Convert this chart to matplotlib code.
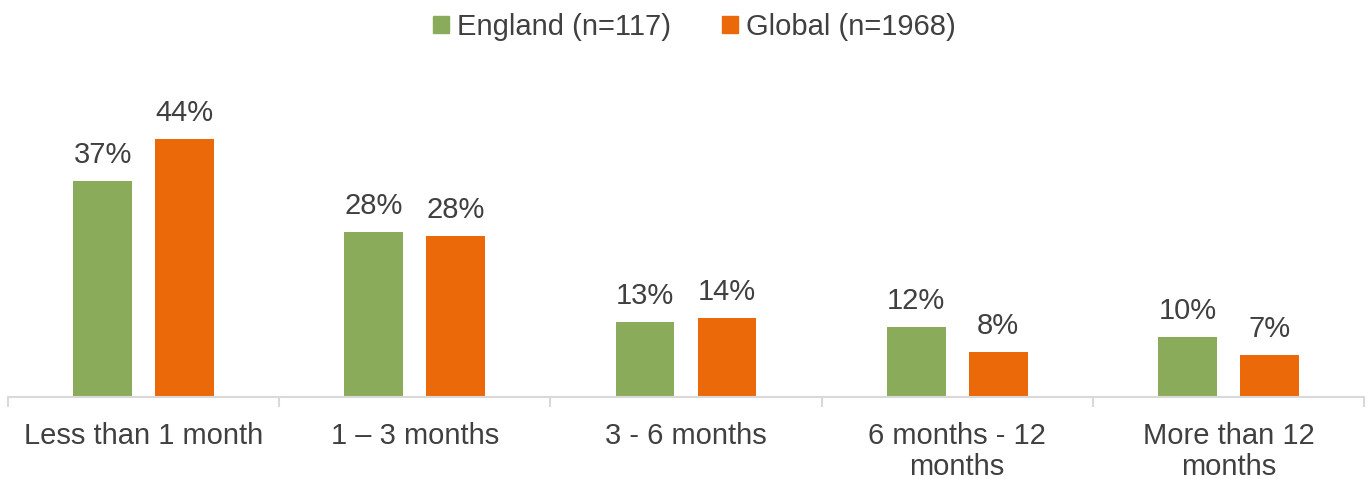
import matplotlib
matplotlib.use("Agg")
import matplotlib.pyplot as plt
import numpy as np
from matplotlib.patches import Patch

categories = ["Less than 1 month", "1 – 3 months", "3 - 6 months", "6 months - 12\nmonths", "More than 12\nmonths"]
series_names = ["England (n=117)", "Global (n=1968)"]
england = [37.0, 28.3, 12.9, 12.0, 10.3]
global_ = [44.2, 27.6, 13.5, 7.7, 7.2]
colors = ["#8AAC5A", "#EB6909"]
text_color = "#404040"

plt.rcParams['font.family'] = ['Liberation Sans', 'DejaVu Sans']

W, H = 1372, 479
fig = plt.figure(figsize=(W/100, H/100), dpi=100)
left, right = 8/W, 1364/W
bottom = 1 - 397/H
top = 1 - 105/H
ax = fig.add_axes([left, bottom, right-left, top-bottom])

x = np.arange(len(categories))
bw = 0.217
off = 0.151
for vals, c, sgn in [(england, colors[0], -1), (global_, colors[1], 1)]:
    bars = ax.bar(x + sgn*off, vals, width=bw, color=c)
    for b, v in zip(bars, vals):
        ax.annotate(f"{round(v):d}%", (b.get_x()+b.get_width()/2, v),
                    xytext=(0, 8.5), textcoords="offset points",
                    ha="center", va="bottom", fontsize=21, color=text_color,
                    annotation_clip=False)

ax.set_xlim(-0.5, len(categories)-0.5)
ax.set_ylim(0, 50)
ax.set_yticks([])
for s in ["top", "right", "left"]:
    ax.spines[s].set_visible(False)
ax.spines["bottom"].set_color("#D9D9D9")
ax.spines["bottom"].set_linewidth(1.5)
ax.set_xticks(x)
ax.set_xticklabels(categories, fontsize=21, color=text_color, linespacing=1.12, va="top")
ax.tick_params(axis="x", which="major", length=0, pad=18)
ax.set_xticks(np.arange(-0.5, len(categories), 1.0), minor=True)
ax.tick_params(axis="x", which="minor", length=7, width=1.5, color="#D9D9D9")

handles = [Patch(color=colors[0], label=series_names[0]), Patch(color=colors[1], label=series_names[1])]
leg = fig.legend(handles=handles, loc="center", bbox_to_anchor=(0.506, 1-27/H), ncol=2,
                 frameon=False, fontsize=21, handlelength=0.55, handleheight=0.55,
                 handletextpad=0.28, columnspacing=1.75, borderpad=0)
for t in leg.get_texts():
    t.set_color(text_color)

fig.savefig("out.png", dpi=100)
